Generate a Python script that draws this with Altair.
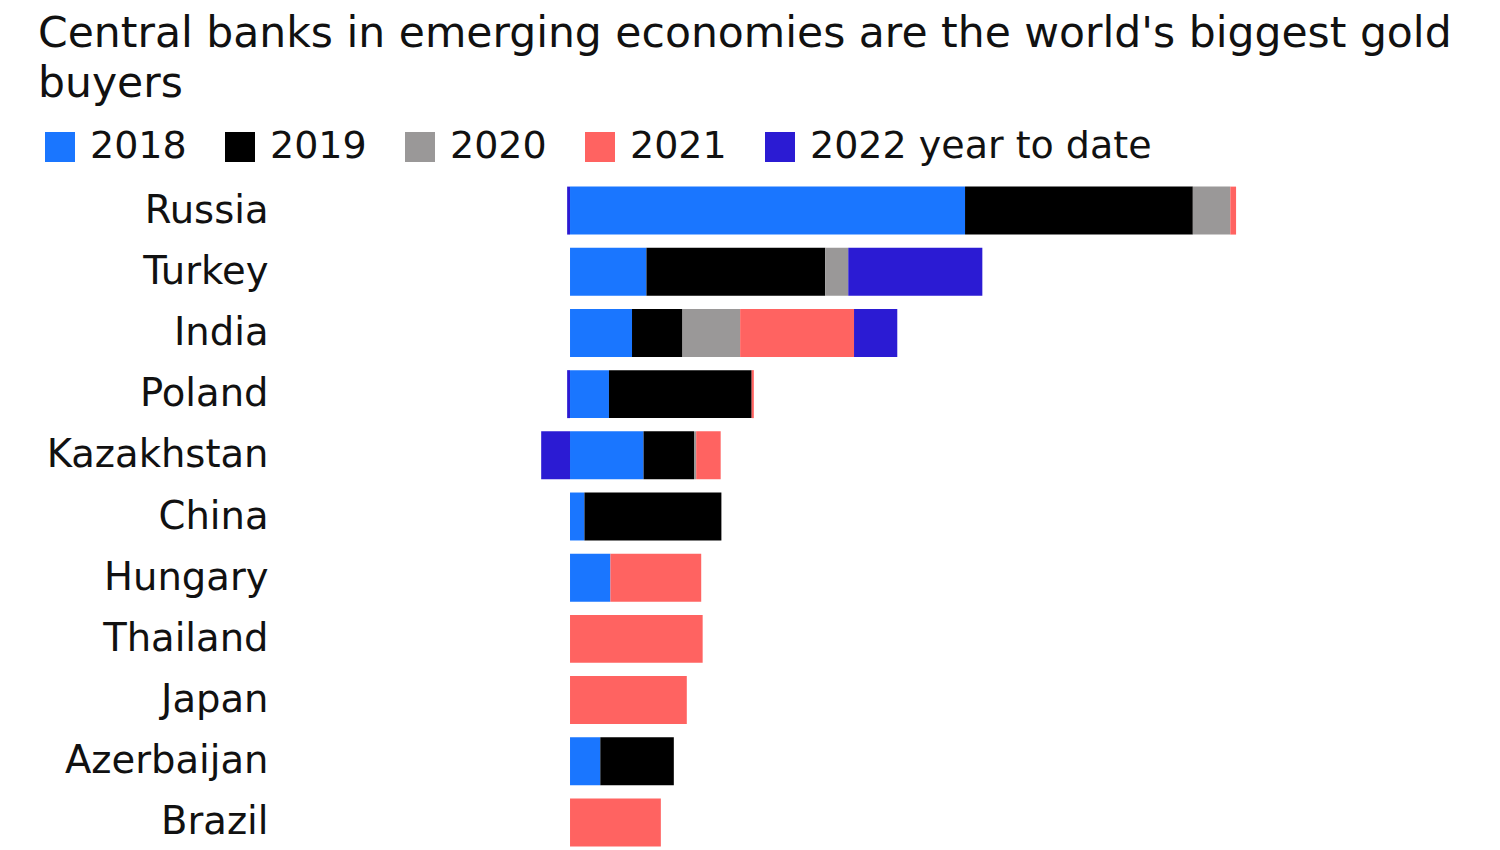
import altair as alt
import pandas as pd

countries = ["Russia", "Turkey", "India", "Poland", "Kazakhstan", "China",
             "Hungary", "Thailand", "Japan", "Azerbaijan", "Brazil"]
series = ["2018", "2019", "2020", "2021", "2022 year to date"]
colors = ["#1a76ff", "#000000", "#9a9898", "#ff6361", "#2b1bd3"]

v2018 = [274, 53, 43, 27, 51, 10, 28, 0, 0, 21, 0]
v2019 = [158, 124, 35, 99, 35, 95, 0, 0, 0, 51, 0]
v2020 = [26, 16, 40, 0, 1.5, 0, 0, 0, 0, 0, 0]
v2021 = [4, 0, 79, 1.5, 17, 0, 63, 92, 81, 0, 63]
v2022 = [-2, 93, 30, -2, -20, 0, 0, 0, 0, 0, 0]

rows = []
for s_i, (name, vals) in enumerate(zip(series, [v2018, v2019, v2020, v2021, v2022])):
    for c, v in zip(countries, vals):
        if v != 0:
            rows.append({"country": c, "year": name, "order": s_i, "tonnes": v})
df = pd.DataFrame(rows)

FONT = "DejaVu Sans"

chart = alt.Chart(df).mark_bar().encode(
    y=alt.Y("country:N", sort=countries,
            scale=alt.Scale(paddingInner=0.216, paddingOuter=0.108),
            axis=alt.Axis(title=None, domain=False, ticks=False, labelFontSize=38.5,
                          labelFont=FONT, labelColor="#111111", labelPadding=32,
                          labelAlign="right", labelLimit=0)),
    x=alt.X("tonnes:Q", stack="zero",
            scale=alt.Scale(domain=[-187.3, 631.2], nice=False, zero=False),
            axis=None),
    color=alt.Color("year:N", sort=series,
                    scale=alt.Scale(domain=series, range=colors),
                    legend=alt.Legend(title=None, orient="none", legendX=-259, legendY=-52,
                                      direction="horizontal", symbolType="square",
                                      symbolSize=900, symbolStrokeWidth=0,
                                      labelFontSize=38, labelFont=FONT, labelLimit=0,
                                      labelColor="#111111", labelOffset=11,
                                      columnPadding=34, symbolOpacity=1)),
    order=alt.Order("order:Q"),
).properties(
    width=1180,
    height=673,
    padding={"left": 292, "top": 172, "right": 12, "bottom": 0},
    autosize=alt.AutoSizeParams(type="none"),
    title=alt.TitleParams(
        ["Central banks in emerging economies are the world's biggest gold", "buyers"],
        anchor="start", frame="group", dx=-262, dy=-23, fontSize=42.5, font=FONT,
        fontWeight="normal", color="#111111", lineHeight=50, offset=0),
).configure_view(stroke=None)

chart.save("out.html", embed_options={"renderer": "svg", "actions": False})
